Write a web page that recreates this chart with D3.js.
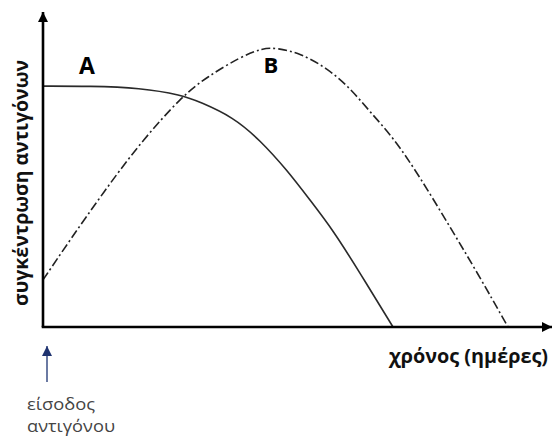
<!DOCTYPE html>
<html><head><meta charset="utf-8">
<script src="https://cdn.jsdelivr.net/npm/d3@7"></script>
<style>body{margin:0;background:#fff}svg{display:block}</style>
</head><body><svg id="c" width="552" height="437"></svg>
<script>
// time (arbitrary units) and antigen concentration (arbitrary units)
const timeA = [0, 9.4, 19.4, 27.8, 31.4, 38, 43.4, 48.8, 53.4, 58, 63.4, 70];
const concA = [80.3, 80.3, 79.7, 77.3, 75, 70, 62.3, 52.3, 42.3, 32.3, 18, 0];
const timeB = [0, 5.4, 12, 19.4, 28, 32.8, 39.4, 44, 46.8, 51.4, 56.8, 61.4, 65.4, 70, 75.4, 81.4, 86.8, 93];
const concB = [15.7, 29, 44.7, 61.3, 77.3, 83.3, 90, 93, 93, 91.3, 86.3, 79.7, 71.7, 63.3, 50, 33.3, 18.3, 0];
const seriesLabels = ["A", "B"];
const yTitle = "συγκέντρωση αντιγόνων";
const xTitle = "χρόνος (ημέρες)";
const entryLabel = ["είσοδος", "αντιγόνου"];

const svg = d3.select("#c");
const x = d3.scaleLinear().domain([0, 100]).range([43, 543]);
const y = d3.scaleLinear().domain([0, 100]).range([327, 27]);

const defs = svg.append("defs");
defs.append("marker").attr("id","arr").attr("viewBox","0 0 10 10").attr("refX",10).attr("refY",5)
  .attr("markerWidth",4).attr("markerHeight",4.5).attr("orient","auto").attr("markerUnits","strokeWidth")
  .append("path").attr("d","M0,0L10,5L0,10Z").attr("fill","#000");
defs.append("marker").attr("id","arrS").attr("viewBox","0 0 10 10").attr("refX",10).attr("refY",5)
  .attr("markerWidth",5).attr("markerHeight",5).attr("orient","auto").attr("markerUnits","strokeWidth")
  .append("path").attr("d","M0,0L10,5L0,10Z").attr("fill","#1f3370");

const line = d3.line().x(d => x(d[0])).y(d => y(d[1])).curve(d3.curveBasis);
const dataA = timeA.map((t,i) => [t, concA[i]]);
const dataB = timeB.map((t,i) => [t, concB[i]]);

svg.append("path").attr("d", line(dataA)).attr("fill","none").attr("stroke","#2a2a2a").attr("stroke-width",1.6);
svg.append("path").attr("d", line(dataB)).attr("fill","none").attr("stroke","#222").attr("stroke-width",1.6)
  .attr("stroke-dasharray","9,3,2,3");

// axes
svg.append("line").attr("x1", x(0)).attr("y1", y(0)).attr("x2", x(0)).attr("y2", 12)
  .attr("stroke","#000").attr("stroke-width",2.6).attr("marker-end","url(#arr)");
svg.append("line").attr("x1", x(0)-1.3).attr("y1", y(0)).attr("x2", 552).attr("y2", y(0))
  .attr("stroke","#000").attr("stroke-width",2.6).attr("marker-end","url(#arr)");

// series labels
svg.append("text").attr("x", 87).attr("y", 74).attr("text-anchor","middle")
  .attr("font-family","Open Sans, sans-serif").attr("font-weight","bold").attr("font-size",23).text(seriesLabels[0]);
svg.append("text").attr("x", 271).attr("y", 73).attr("text-anchor","middle")
  .attr("font-family","Open Sans, sans-serif").attr("font-weight","bold").attr("font-size",22).text(seriesLabels[1]);

// axis titles
svg.append("text").attr("transform","translate(28,183) rotate(-90)").attr("text-anchor","middle")
  .attr("font-family","Open Sans, sans-serif").attr("font-weight","bold").attr("font-size",19)
  .attr("textLength",246).attr("lengthAdjust","spacingAndGlyphs")
  .attr("fill","#111").text(yTitle);
svg.append("text").attr("x", 548).attr("y", 363).attr("text-anchor","end")
  .attr("font-family","Open Sans, sans-serif").attr("font-weight","bold").attr("font-size",19)
  .attr("textLength",159).attr("lengthAdjust","spacingAndGlyphs")
  .attr("fill","#111").text(xTitle);

// entry arrow and label
svg.append("line").attr("x1", 47).attr("y1", 382).attr("x2", 47).attr("y2", 346)
  .attr("stroke","#6b7aa3").attr("stroke-width",2).attr("marker-end","url(#arrS)");
svg.selectAll("text.entry").data(entryLabel).join("text").attr("class","entry")
  .attr("x", 27).attr("y", (d,i) => 410 + i*22)
  .attr("font-family","Open Sans, sans-serif").attr("font-size",16)
  .attr("textLength", (d,i) => i === 0 ? 68 : 88).attr("lengthAdjust","spacingAndGlyphs")
  .attr("fill","#444").text(d => d);
</script></body></html>
